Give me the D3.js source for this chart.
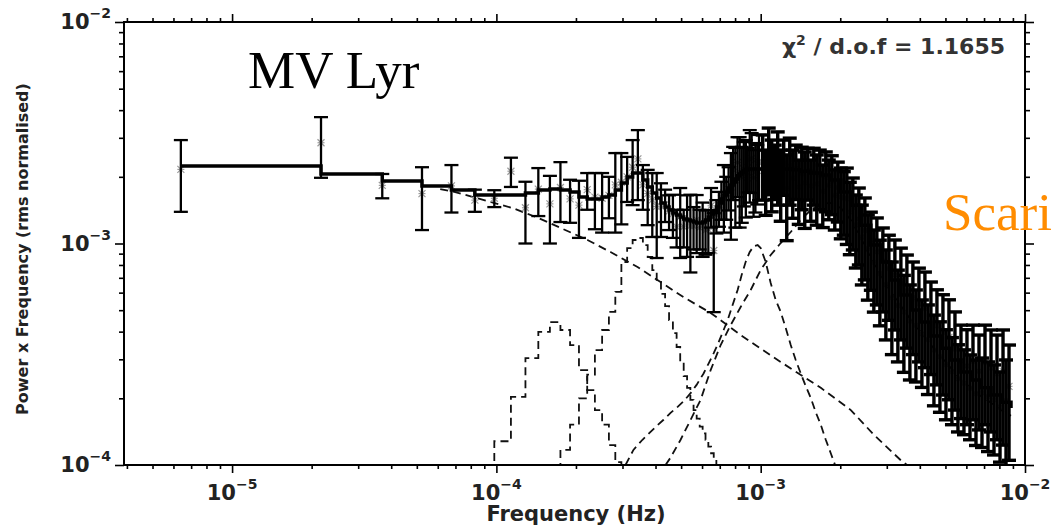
<!DOCTYPE html>
<html><head><meta charset="utf-8">
<script src="https://cdn.jsdelivr.net/npm/d3@7"></script>
<style>html,body{margin:0;padding:0;background:#fff;} svg{display:block;}</style>
</head><body><svg id="c" width="1052" height="530"></svg>
<script>
// ---------- DATA ----------
// low-frequency periodogram bins (frequency in µHz, power x frequency in 1e-3 rms units)
const freqLowMicroHz = [6.4,21.7,37.0,52.3,67.6,82.9,98.2,113.5,128.8,144.1,159.4,174.7,190.0,205.3,220.6,235.9,251.2,266.5,281.8,297.1,312.4,327.7,343.0,358.3,373.6,388.9,404.2,419.5,434.8,450.1,465.4,480.7,496.0,511.3,526.6,541.9,557.2,572.5,587.8,603.1,618.4,633.7,649.0,664.3,679.6,694.9,710.2,725.5,740.8,756.1,771.4,786.7,802.0,817.3,832.6,847.9,863.2,878.5,893.8,909.1,924.4,939.7,955.0,970.3,985.6];
const powLow = [2.16,2.85,1.83,1.68,1.82,1.57,1.60,2.12,1.45,1.76,1.51,1.79,1.59,1.49,1.75,1.62,1.60,1.65,1.84,1.89,2.00,2.21,2.41,1.84,1.68,1.575,1.47,1.47,1.50,1.40,1.36,1.19,1.32,1.19,1.26,1.20,1.20,1.28,1.18,1.20,1.15,1.16,1.48,0.93,1.34,1.45,1.59,1.69,1.64,1.81,1.80,2.15,1.94,2.32,2.10,1.985,2.17,2.12,2.20,2.39,2.42,1.98,2.11,2.14,2.33];
const errLow = [0.77,0.87,0.23,0.53,0.44,0.18,0.14,0.32,0.45,0.43,0.51,0.54,0.35,0.43,0.33,0.46,0.48,0.35,0.72,0.67,0.46,0.72,0.84,0.42,0.47,0.505,0.61,0.40,0.25,0.25,0.30,0.23,0.46,0.23,0.39,0.46,0.26,0.375,0.24,0.33,0.26,0.255,0.30,0.44,0.23,0.26,0.31,0.57,0.36,0.40,0.76,0.58,0.76,0.70,0.92,0.745,0.70,0.81,0.50,0.86,0.73,0.66,0.73,0.64,0.76];
const modelLow = [2.24,2.06,1.915,1.82,1.744,1.656,1.656,1.656,1.69,1.744,1.76,1.744,1.71,1.62,1.587,1.587,1.62,1.656,1.744,1.876,1.995,2.08,2.08,1.935,1.80,1.69,1.605,1.523,1.461,1.416,1.373,1.345,1.318,1.29,1.277,1.264,1.25,1.237,1.237,1.25,1.277,1.318,1.359,1.402,1.461,1.523,1.587,1.656,1.71,1.78,1.837,1.895,1.955,2.02,2.06,2.10,2.125,2.15,2.17,2.17,2.17,2.17,2.17,2.17,2.17];

// high-frequency bins (frequency in mHz)
const freqHiMilliHz = [1.0176,1.0446,1.0723,1.1007,1.1299,1.1599,1.1906,1.2222,1.2546,1.2879,1.3220,1.3571,1.3931,1.4300,1.4679,1.5069,1.5468,1.5878,1.6299,1.6731,1.7175,1.7630,1.8098,1.8578,1.9070,1.9576,2.0095,2.0628,2.1175,2.1736,2.2313,2.2904,2.3512,2.4135,2.4775,2.5432,2.6106,2.6799,2.7509,2.8239,2.8988,2.9756,3.0545,3.1355,3.2187,3.3040,3.3916,3.4816,3.5739,3.6687,3.7659,3.8658,3.9683,4.0735,4.1816,4.2924,4.4063,4.5231,4.6430,4.7661,4.8925,5.0222,5.1554,5.2921,5.4324,5.5765,5.7243,5.8761,6.0319,6.1919,6.3560,6.5246,6.6976,6.8752,7.0575,7.2446,7.4367,7.6339,7.8363,8.0441,8.2574,8.4764,8.70];
const powHi = [2.33,1.99,2.49,2.16,2.18,2.34,1.95,2.29,1.77,2.24,1.97,2.18,1.80,2.07,1.88,2.13,1.82,2.09,1.86,2.03,1.72,1.99,1.83,1.92,1.65,1.79,1.62,1.60,1.59,1.39,1.455,1.215,1.29,1.07,1.145,0.95,1.00,0.82,0.916,0.73,0.833,0.651,0.77,0.57,0.722,0.525,0.66,0.49,0.612,0.446,0.57,0.427,0.533,0.39,0.509,0.368,0.463,0.33,0.424,0.308,0.397,0.284,0.377,0.264,0.334,0.245,0.295,0.234,0.28,0.222,0.294,0.21,0.265,0.212,0.29,0.2035,0.274,0.197,0.258,0.183,0.265,0.195,0.2265];
const errHi = [0.76,0.65,0.83,0.77,0.60,0.85,0.69,0.64,0.74,0.75,0.67,0.60,0.58,0.65,0.71,0.56,0.56,0.60,0.65,0.61,0.54,0.60,0.55,0.57,0.50,0.54,0.57,0.51,0.60,0.50,0.52,0.44,0.49,0.42,0.46,0.395,0.385,0.33,0.388,0.305,0.342,0.284,0.32,0.255,0.315,0.233,0.293,0.228,0.275,0.204,0.255,0.19,0.241,0.166,0.234,0.16,0.207,0.145,0.194,0.135,0.19,0.124,0.18,0.112,0.157,0.104,0.133,0.097,0.128,0.092,0.134,0.0875,0.121,0.092,0.138,0.0885,0.133,0.086,0.128,0.08,0.142,0.103,0.1215];
const modelHiFreqMilliHz = [1.091,1.191,1.299,1.418,1.547,1.688,1.842,2.009,2.193,2.392,2.61,2.848,3.108,3.391,3.70,4.038,4.406,4.807,5.245,5.723,6.245,6.814,7.435,8.113,8.852];
const modelHi = [2.19,2.17,2.15,2.12,2.08,2.04,1.935,1.71,1.49,1.21,0.984,0.825,0.684,0.586,0.501,0.442,0.382,0.337,0.298,0.263,0.242,0.223,0.207,0.192,0.181];

// model components (dashed)
const comp1FreqMilliHz = [0.0613,0.0693,0.084,0.0983,0.115,0.1442,0.1857,0.2212,0.2703,0.342,0.418,0.511,0.647,0.840,1.19,1.688,2.193,2.679,3.391,3.70];
const comp1Pow = [1.76,1.71,1.605,1.523,1.446,1.304,1.139,1.037,0.915,0.783,0.670,0.572,0.486,0.386,0.292,0.223,0.177,0.137,0.105,0.097];
const comp2FreqMicroHz = [82.9,98.2,113.5,128.8,144.1,159.4,174.7,190.0,205.3,220.6,235.9,251.2,266.5,281.8,297.1];
const comp2Pow = [0.085,0.128,0.203,0.304,0.399,0.442,0.407,0.348,0.268,0.218,0.177,0.152,0.123,0.103,0.09];
const comp3FreqMicroHz = [159.4,174.7,190.0,205.3,220.6,235.9,251.2,266.5,281.8,297.1,312.4,327.7,343.0,358.3,373.6,388.9,404.2,419.5,434.8,450.1,465.4,480.7,496.0,511.3,526.6,541.9,557.2,572.5,587.8,603.1,618.4,633.7,649.0,664.3,679.6,694.9];
const comp3Pow = [0.08,0.117,0.152,0.200,0.256,0.330,0.407,0.491,0.605,0.825,0.954,1.037,1.059,0.984,0.869,0.759,0.670,0.592,0.522,0.451,0.394,0.341,0.292,0.252,0.223,0.197,0.177,0.162,0.149,0.139,0.130,0.121,0.113,0.106,0.099,0.09];
const comp4FreqMilliHz = [0.308,0.330,0.357,0.383,0.404,0.429,0.456,0.485,0.511,0.543,0.572,0.608,0.635,0.664,0.693,0.724,0.750,0.783,0.818,0.847,0.877,0.908,0.941,0.974,1.0,1.0446,1.091,1.1398,1.1906,1.2437,1.2991,1.357,1.4175,1.4807,1.5467,1.6156,1.6877,1.7629,1.8415,1.9236];
const comp4Pow = [0.100,0.117,0.130,0.141,0.150,0.160,0.172,0.183,0.194,0.211,0.230,0.259,0.287,0.320,0.358,0.407,0.451,0.528,0.617,0.720,0.825,0.914,0.973,0.984,0.954,0.825,0.663,0.556,0.491,0.415,0.348,0.298,0.259,0.227,0.201,0.173,0.152,0.130,0.113,0.098];
const comp5FreqMilliHz = [0.4365,0.456,0.4977,0.543,0.5926,0.6465,0.7055,0.7697,0.8398,0.9165,1.0,1.091,1.1906,1.2991,1.4175,1.5467,1.6877,1.8415,2.0094,2.1925,2.3924,2.6104,2.8483,3.1079,3.3912,3.7003,4.0375,4.4055,4.807,5.2451,5.7232,6.2448,6.8139,7.4349,8.1125,8.852];
const comp5Pow = [0.100,0.108,0.130,0.160,0.197,0.268,0.348,0.428,0.517,0.617,0.759,0.887,1.005,1.127,1.277,1.416,1.510,1.526,1.446,1.277,1.059,0.860,0.720,0.604,0.523,0.451,0.398,0.348,0.308,0.274,0.242,0.223,0.205,0.191,0.177,0.167];

// ticks and labels
const xMajor = [1e-5,1e-4,1e-3,1e-2];
const xMajorExp = ["\u22125","\u22124","\u22123","\u22122"];
const yMajor = [1e-4,1e-3,1e-2];
const yMajorExp = ["\u22124","\u22123","\u22122"];
const title = "MV Lyr";
const sideText = "Scari";
const chiLabel = ["\u03c7", "2", " / d.o.f = 1.1655"];
const xTitle = "Frequency (Hz)";
const yTitle = "Power x Frequency (rms normalised)";

// ---------- BUILD ----------
const mu = 1e-6, milli = 1e-3;
const ptsLow = freqLowMicroHz.map((f,i)=>({f:f*mu, p:powLow[i]*milli, e:errLow[i]*milli}));
const ptsHi = freqHiMilliHz.map((f,i)=>({f:f*milli, p:powHi[i]*milli, e:errHi[i]*milli}));
const model = freqLowMicroHz.map((f,i)=>({f:f*mu, p:modelLow[i]*milli}))
  .concat(modelHiFreqMilliHz.map((f,i)=>({f:f*milli, p:modelHi[i]*milli})));
const zip = (fs, ps, unit) => fs.map((f,i)=>({f:f*unit, p:ps[i]*milli}));
const comps = [
  {d: zip(comp1FreqMilliHz, comp1Pow, milli), curve: d3.curveLinear},
  {d: zip(comp2FreqMicroHz, comp2Pow, mu), curve: d3.curveStepAfter},
  {d: zip(comp3FreqMicroHz, comp3Pow, mu), curve: d3.curveStepAfter},
  {d: zip(comp4FreqMilliHz, comp4Pow, milli), curve: d3.curveLinear},
  {d: zip(comp5FreqMilliHz, comp5Pow, milli), curve: d3.curveLinear}
];

const L=124, R=1025, T=22, B=465;
const x = d3.scaleLog().domain([3.9e-6, 1e-2]).range([L, R]);
const y = d3.scaleLog().domain([1e-4, 1e-2]).range([B, T]);

const svg = d3.select("#c");
svg.append("rect").attr("width",1052).attr("height",530).attr("fill","#fff");
svg.append("defs").append("clipPath").attr("id","clip")
  .append("rect").attr("x",L).attr("y",T).attr("width",R-L).attr("height",B-T);
const plot = svg.append("g").attr("clip-path","url(#clip)");

// dashed components
comps.forEach(c=>{
  plot.append("path").datum(c.d)
    .attr("d", d3.line().x(d=>x(d.f)).y(d=>y(d.p)).curve(c.curve))
    .attr("fill","none").attr("stroke","#111").attr("stroke-width",1.8)
    .attr("stroke-dasharray","8,5");
});

// markers (gray asterisks)
const mk = plot.append("g").attr("stroke","#9a9a9a").attr("stroke-width",1.2);
ptsLow.concat(ptsHi).forEach(d=>{
  const cx=x(d.f), cy=y(d.p), s=3.5;
  mk.append("line").attr("x1",cx-s).attr("x2",cx+s).attr("y1",cy-s).attr("y2",cy+s);
  mk.append("line").attr("x1",cx-s).attr("x2",cx+s).attr("y1",cy+s).attr("y2",cy-s);
  mk.append("line").attr("x1",cx-s).attr("x2",cx+s).attr("y1",cy).attr("y2",cy);
});

// error bars
function errorBars(data, sw, cw){
  const eb = plot.append("g").attr("stroke","#000").attr("stroke-width",sw).attr("fill","none");
  data.forEach(d=>{
    const cx=x(d.f), y1=y(d.p+d.e), y0=y(d.p-d.e);
    eb.append("line").attr("x1",cx).attr("x2",cx).attr("y1",y1).attr("y2",y0);
    eb.append("line").attr("x1",cx-cw).attr("x2",cx+cw).attr("y1",y1).attr("y2",y1);
    eb.append("line").attr("x1",cx-cw).attr("x2",cx+cw).attr("y1",y0).attr("y2",y0);
  });
}
errorBars(ptsLow, 2.3, 7);
errorBars(ptsHi, 3.4, 7);

// model step line
plot.append("path").datum(model)
  .attr("d", d3.line().x(d=>x(d.f)).y(d=>y(d.p)).curve(d3.curveStepAfter))
  .attr("fill","none").attr("stroke","#000").attr("stroke-width",3.5);

// axes (ticks outward on all four sides)
const xMinor = x.ticks().filter(v=>!xMajor.some(m=>Math.abs(m-v)/m<1e-6));
const yMinor = y.ticks().filter(v=>!yMajor.some(m=>Math.abs(m-v)/m<1e-6));
function addAxis(gen, tr){
  const g = svg.append("g").attr("transform",tr).call(gen);
  g.select(".domain").remove();
  g.selectAll("line").attr("stroke","#000").attr("stroke-width",1.6);
  g.selectAll("text").remove();
}
addAxis(d3.axisBottom(x).tickValues(xMajor).tickSize(8).tickFormat(""), `translate(0,${B})`);
addAxis(d3.axisBottom(x).tickValues(xMinor).tickSize(4).tickFormat(""), `translate(0,${B})`);
addAxis(d3.axisTop(x).tickValues(xMajor).tickSize(8).tickFormat(""), `translate(0,${T})`);
addAxis(d3.axisTop(x).tickValues(xMinor).tickSize(4).tickFormat(""), `translate(0,${T})`);
addAxis(d3.axisLeft(y).tickValues(yMajor).tickSize(9).tickFormat(""), `translate(${L},0)`);
addAxis(d3.axisLeft(y).tickValues(yMinor).tickSize(5).tickFormat(""), `translate(${L},0)`);
addAxis(d3.axisRight(y).tickValues(yMajor).tickSize(9).tickFormat(""), `translate(${R},0)`);
addAxis(d3.axisRight(y).tickValues(yMinor).tickSize(5).tickFormat(""), `translate(${R},0)`);
svg.append("rect").attr("x",L).attr("y",T).attr("width",R-L).attr("height",B-T)
  .attr("fill","none").attr("stroke","#000").attr("stroke-width",2);

// tick labels
const lblFont = "'DejaVu Sans', sans-serif";
xMajor.forEach((v,i)=>{
  const t = svg.append("text").attr("x",x(v)).attr("y",500).attr("text-anchor","middle")
    .attr("font-family",lblFont).attr("font-weight","bold").attr("font-size",21).attr("fill","#222");
  t.append("tspan").text("10");
  t.append("tspan").attr("dy",-11).attr("font-size",14).text(xMajorExp[i]);
});
yMajor.forEach((v,i)=>{
  const t = svg.append("text").attr("x",111).attr("y",y(v)+7).attr("text-anchor","end")
    .attr("font-family",lblFont).attr("font-weight","bold").attr("font-size",21).attr("fill","#222");
  t.append("tspan").text("10");
  t.append("tspan").attr("dy",-11).attr("font-size",14).text(yMajorExp[i]);
});

// axis titles
svg.append("text").attr("x",576).attr("y",521).attr("text-anchor","middle")
  .attr("font-family",lblFont).attr("font-weight","bold").attr("font-size",21)
  .attr("fill","#222").text(xTitle);
svg.append("text").attr("transform","translate(28,249) rotate(-90)").attr("text-anchor","middle")
  .attr("font-family",lblFont).attr("font-weight","bold").attr("font-size",16)
  .attr("fill","#222").text(yTitle);

// chi-square label
const ct = svg.append("text").attr("x",1005).attr("y",54).attr("text-anchor","end")
  .attr("font-family",lblFont).attr("font-weight","bold").attr("font-size",22).attr("fill","#333");
ct.append("tspan").text(chiLabel[0]);
ct.append("tspan").attr("dy",-9).attr("font-size",14).text(chiLabel[1]);
ct.append("tspan").attr("dy",9).text(chiLabel[2]);

// title and side text
svg.append("text").attr("x",248).attr("y",88).attr("font-family","'Liberation Serif', serif")
  .attr("font-size",53).attr("fill","#000").text(title);
svg.append("text").attr("x",943).attr("y",230).attr("font-family","'Liberation Serif', serif")
  .attr("font-size",53).attr("fill","#ff8c00").text(sideText);
</script></body></html>
